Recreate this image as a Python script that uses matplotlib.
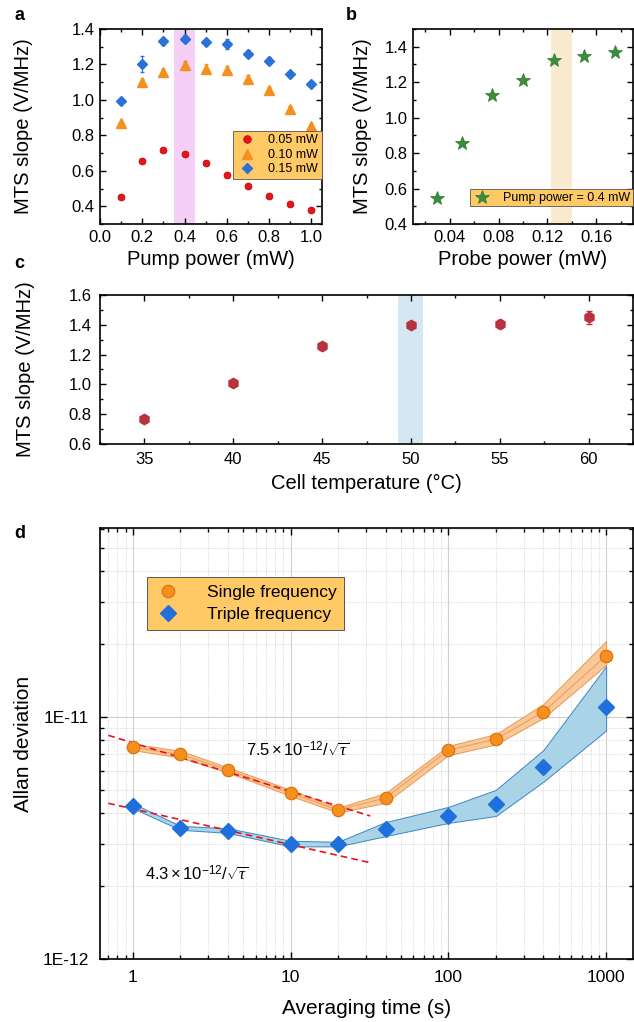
import numpy as np
import matplotlib
matplotlib.use("Agg")
import matplotlib.pyplot as plt
from matplotlib.lines import Line2D
from matplotlib.ticker import MultipleLocator, FixedLocator, NullFormatter, FuncFormatter, LogLocator

plt.rcParams['font.family'] = ['Liberation Sans', 'DejaVu Sans']
plt.rcParams['mathtext.fontset'] = 'custom'
plt.rcParams['mathtext.rm'] = 'Liberation Sans'
plt.rcParams['mathtext.it'] = 'Liberation Serif:italic'

# ---------------- data ----------------
pump_power = [0.1, 0.2, 0.3, 0.4, 0.5, 0.6, 0.7, 0.8, 0.9, 1.0]
slope_005 = [0.45, 0.655, 0.72, 0.695, 0.645, 0.575, 0.515, 0.46, 0.415, 0.38]
err_005 = [0.01, 0.01, 0.01, 0.01, 0.01, 0.01, 0.01, 0.01, 0.01, 0.01]
slope_010 = [0.87, 1.10, 1.155, 1.195, 1.175, 1.17, 1.12, 1.055, 0.95, 0.855]
err_010 = [0.01, 0.02, 0.02, 0.025, 0.025, 0.02, 0.02, 0.02, 0.015, 0.01]
slope_015 = [0.995, 1.205, 1.33, 1.345, 1.325, 1.315, 1.26, 1.22, 1.145, 1.09]
err_015 = [0.01, 0.045, 0.02, 0.02, 0.015, 0.03, 0.02, 0.02, 0.015, 0.01]
legend_a = ['0.05 mW', '0.10 mW', '0.15 mW']

probe_power = [0.03, 0.05, 0.075, 0.1, 0.125, 0.15, 0.175]
slope_probe = [0.545, 0.855, 1.125, 1.215, 1.325, 1.35, 1.37]

cell_temp = [35, 40, 45, 50, 55, 60]
slope_temp = [0.765, 1.01, 1.255, 1.40, 1.405, 1.45]
err_temp = [0.02, 0.02, 0.025, 0.02, 0.025, 0.045]

tau = [1, 2, 4, 10, 20, 40, 100, 200, 400, 1000]
adev_single = [7.5e-12, 7.0e-12, 6.05e-12, 4.85e-12, 4.13e-12, 4.63e-12, 7.3e-12, 8.1e-12, 1.05e-11, 1.79e-11]
single_hi = [7.75e-12, 7.25e-12, 6.2e-12, 5.0e-12, 4.22e-12, 4.85e-12, 7.6e-12, 8.5e-12, 1.13e-11, 2.06e-11]
single_lo = [7.3e-12, 6.8e-12, 5.9e-12, 4.72e-12, 4.03e-12, 4.42e-12, 6.95e-12, 7.7e-12, 9.9e-12, 1.64e-11]
adev_triple = [4.28e-12, 3.47e-12, 3.38e-12, 2.99e-12, 2.99e-12, 3.44e-12, 3.9e-12, 4.36e-12, 6.2e-12, 1.1e-11]
triple_hi = [4.4e-12, 3.55e-12, 3.47e-12, 3.08e-12, 3.05e-12, 3.68e-12, 4.25e-12, 5.0e-12, 7.3e-12, 1.62e-11]
triple_lo = [4.2e-12, 3.42e-12, 3.32e-12, 2.92e-12, 2.92e-12, 3.22e-12, 3.65e-12, 3.9e-12, 5.4e-12, 8.8e-12]
fit_tau = [0.7, 32]
fit_single = [8.4e-12, 3.9e-12]
fit_triple = [4.4e-12, 2.5e-12]

# ---------------- figure ----------------
fig = plt.figure(figsize=(6.34, 10.22), dpi=100)
W, H = 634, 1022
def ax_at(l, t, r, b):
    return fig.add_axes([l / W, 1 - b / H, (r - l) / W, (b - t) / H])

def style(ax, size=10):
    ax.tick_params(which='both', direction='in', top=True, right=True, labelsize=size, width=1.0)
    ax.tick_params(which='major', length=4, pad=4)
    ax.tick_params(which='minor', length=2)
    for s in ax.spines.values():
        s.set_linewidth(1.2)

legend_face = '#FFC966'
LAB = 14.5

# ---- panel a
ax = ax_at(100, 29, 322, 224)
ax.axvspan(0.35, 0.45, color='#F5CFF8', lw=0, zorder=0)
ax.errorbar(pump_power, slope_005, yerr=err_005, fmt='o', color='#E8141B', ms=5,
            mec='#C00000', mew=0.5, ecolor='#E8141B', elinewidth=0.8, capsize=1.5)
ax.errorbar(pump_power, slope_010, yerr=err_010, fmt='^', color='#F5901E', ms=6.5,
            mec='#F5901E', ecolor='#F5901E', elinewidth=0.8, capsize=1.5)
ax.errorbar(pump_power, slope_015, yerr=err_015, fmt='D', color='#2A72DA', ms=5.5,
            mec='#2A72DA', ecolor='#2A72DA', elinewidth=0.8, capsize=1.5)
handles_a = [Line2D([], [], ls='none', marker='o', color='#E8141B', mec='#C00000', mew=0.5, ms=5.5),
             Line2D([], [], ls='none', marker='^', color='#F5901E', ms=7),
             Line2D([], [], ls='none', marker='D', color='#2A72DA', ms=5.5)]
ax.set_xlim(0, 1.05)
ax.set_ylim(0.3, 1.4)
ax.xaxis.set_major_locator(MultipleLocator(0.2))
ax.xaxis.set_minor_locator(MultipleLocator(0.1))
ax.set_yticks([0.4, 0.6, 0.8, 1.0, 1.2, 1.4])
ax.yaxis.set_minor_locator(MultipleLocator(0.1))
ax.xaxis.set_major_formatter(FuncFormatter(lambda v, p: f'{v:.1f}'))
ax.yaxis.set_major_formatter(FuncFormatter(lambda v, p: f'{v:.1f}'))
style(ax, 12)
ax.set_xlabel('Pump power (mW)', fontsize=LAB, labelpad=4)
ax.set_ylabel('MTS slope (V/MHz)', fontsize=LAB)
ax.yaxis.set_label_coords(-0.30, 0.5)
leg = ax.legend(handles_a, legend_a, loc='lower right', bbox_to_anchor=(1.0, 0.23), borderaxespad=0,
                fontsize=9, frameon=True, fancybox=False, facecolor=legend_face, edgecolor='#555555',
                framealpha=1, handletextpad=0.9, labelspacing=0.2, borderpad=0.3, handlelength=1.6)
leg.get_frame().set_linewidth(0.6)
fig.text(14 / W, 1 - 16 / H, 'a', fontsize=13, fontweight='bold', va='center')

# ---- panel b
ax = ax_at(413, 29, 633, 224)
ax.axvspan(0.123, 0.14, color='#F9EAD0', lw=0, zorder=0)
ax.plot(probe_power, slope_probe, ls='none', marker='*', ms=10, color='#3C8C3C',
        mec='#2E7A2E', mew=0.5, label='Pump power = 0.4 mW')
ax.set_xlim(0.01, 0.19)
ax.set_ylim(0.4, 1.5)
ax.set_xticks([0.04, 0.08, 0.12, 0.16])
ax.xaxis.set_minor_locator(MultipleLocator(0.02))
ax.yaxis.set_major_locator(MultipleLocator(0.2))
ax.yaxis.set_minor_locator(MultipleLocator(0.1))
ax.xaxis.set_major_formatter(FuncFormatter(lambda v, p: f'{v:.2f}'))
ax.yaxis.set_major_formatter(FuncFormatter(lambda v, p: f'{v:.1f}'))
style(ax, 12)
ax.set_xlabel('Probe power (mW)', fontsize=LAB, labelpad=4)
ax.set_ylabel('MTS slope (V/MHz)', fontsize=LAB)
ax.yaxis.set_label_coords(-0.186, 0.5)
leg = ax.legend(loc='lower right', bbox_to_anchor=(1.0, 0.09), borderaxespad=0, fontsize=9,
                frameon=True, fancybox=False, facecolor=legend_face, edgecolor='#555555',
                framealpha=1, handletextpad=0.9, borderpad=0.2, handlelength=1.6)
leg.get_frame().set_linewidth(0.6)
fig.text(346 / W, 1 - 16 / H, 'b', fontsize=13, fontweight='bold', va='center')

# ---- panel c
ax = ax_at(100, 295, 633, 444)
ax.axvspan(49.3, 50.7, color='#D5E8F2', lw=0, zorder=0)
ax.errorbar(cell_temp, slope_temp, yerr=err_temp, fmt='h', color='#B8323F', ms=7.5,
            mec='#B8323F', ecolor='#B8323F', elinewidth=0.9, capsize=2.5)
ax.set_xlim(32.5, 62.5)
ax.set_ylim(0.6, 1.6)
ax.xaxis.set_major_locator(MultipleLocator(5))
ax.xaxis.set_minor_locator(MultipleLocator(2.5))
ax.yaxis.set_major_locator(MultipleLocator(0.2))
ax.yaxis.set_minor_locator(MultipleLocator(0.1))
ax.yaxis.set_major_formatter(FuncFormatter(lambda v, p: f'{v:.1f}'))
style(ax, 12)
ax.tick_params(which='major', pad=6)
ax.set_xlabel('Cell temperature (°C)', fontsize=LAB, labelpad=5)
ax.set_ylabel('MTS slope (V/MHz)', fontsize=LAB)
ax.yaxis.set_label_coords(-0.122, 0.5)
fig.text(14 / W, 1 - 264 / H, 'c', fontsize=13, fontweight='bold', va='center')

# ---- panel d
ax = ax_at(100, 528, 633, 959)
ax.set_xscale('log')
ax.set_yscale('log')
ax.set_xlim(0.62, 1480)
ax.set_ylim(1e-12, 6.04e-11)
ax.grid(which='major', color='#D0D0D0', lw=0.8, ls='-')
ax.grid(which='minor', color='#C8C8C8', lw=0.6, ls=':')
ax.set_axisbelow(True)
ax.fill_between(tau, single_lo, single_hi, color='#F8C898', ec='#E89A50', lw=0.7, zorder=2)
ax.plot(tau, adev_single, color='#F0A060', lw=0.8, zorder=2)
ax.fill_between(tau, triple_lo, triple_hi, color='#A9D3E7', ec='#3C86C4', lw=0.7, zorder=2)
ax.plot(fit_tau, fit_single, ls=(0, (4, 2.5)), color='#E8141B', lw=1.2, zorder=3)
ax.plot(fit_tau, fit_triple, ls=(0, (4, 2.5)), color='#E8141B', lw=1.2, zorder=3)
ax.plot(tau, adev_single, ls='none', marker='o', ms=9, color='#F5901E', mec='#E06E0A',
        mew=0.8, zorder=4, label='Single frequency')
ax.plot(tau, adev_triple, ls='none', marker='D', ms=8.5, color='#1F6FDC', mec='#1F6FDC',
        zorder=4, label='Triple frequency')
ax.text(5.2, 7.3e-12, r'$7.5\times10^{-12}/\sqrt{\mathit{\tau}}$', fontsize=12, va='center')
ax.text(1.2, 2.26e-12, r'$4.3\times10^{-12}/\sqrt{\mathit{\tau}}$', fontsize=12, va='center')
ax.xaxis.set_major_locator(FixedLocator([1, 10, 100, 1000]))
ax.xaxis.set_major_formatter(FuncFormatter(lambda v, p: f'{v:g}'))
ax.xaxis.set_minor_locator(LogLocator(base=10, subs=np.arange(2, 10), numticks=20))
ax.xaxis.set_minor_formatter(NullFormatter())
ax.yaxis.set_major_locator(FixedLocator([1e-12, 1e-11]))
ax.yaxis.set_major_formatter(FuncFormatter(lambda v, p: '1E-12' if v < 5e-12 else '1E-11'))
ax.yaxis.set_minor_locator(LogLocator(base=10, subs=np.arange(2, 10), numticks=20))
ax.yaxis.set_minor_formatter(NullFormatter())
style(ax, 12.5)
ax.tick_params(which='major', length=5, pad=8)
ax.tick_params(which='minor', length=3)
ax.set_xlabel('Averaging time (s)', fontsize=15, labelpad=10)
ax.set_ylabel('Allan deviation', fontsize=15)
ax.yaxis.set_label_coords(-0.126, 0.5)
leg = ax.legend(loc='upper left', bbox_to_anchor=(0.088, 0.886), borderaxespad=0, fontsize=12.5,
                frameon=True, fancybox=False, facecolor=legend_face, edgecolor='#555555',
                framealpha=1, handletextpad=1.5, labelspacing=0.4, borderpad=0.45, handlelength=1.5)
leg.get_frame().set_linewidth(0.7)
fig.text(14 / W, 1 - 533 / H, 'd', fontsize=13, fontweight='bold', va='center')

fig.savefig('out.png', dpi=100)
